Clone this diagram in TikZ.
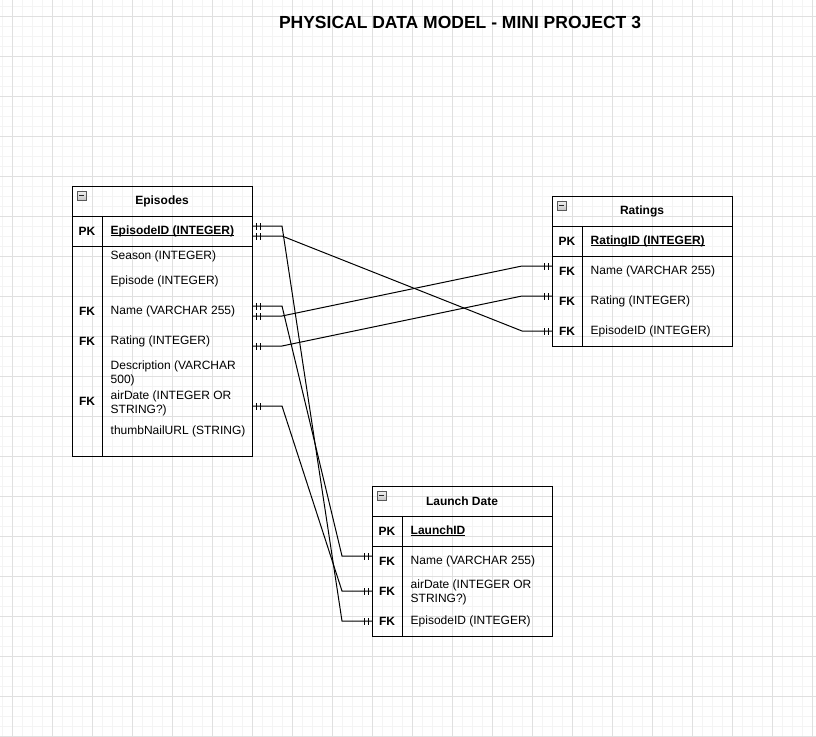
\documentclass[tikz,border=0pt]{standalone}
\usepackage{fontspec}
\setmainfont{Liberation Sans}
\usetikzlibrary{decorations.markings}

\definecolor{minorline}{HTML}{F4F4F4}
\definecolor{majorline}{HTML}{E0E0E0}

\newsavebox{\keybox}
\newcommand{\keyline}[1]{\sbox{\keybox}{#1}\rlap{\rule[-1.8pt]{\wd\keybox}{.9pt}}\usebox{\keybox}}

\begin{document}
\begin{tikzpicture}[x=1pt,y=-1pt,font=\fontsize{12}{14}\selectfont,
		tablebox/.style={draw,line width=1pt,minimum width=180pt,inner sep=0pt,anchor=north west},
		header/.style={font=\bfseries\fontsize{12}{14}\selectfont},
		keycol/.style={font=\bfseries\fontsize{12}{14}\selectfont,inner sep=0pt},
		field/.style={anchor=west,align=left,inner sep=0pt},
		collapse/.style={draw=gray!70!black,top color=gray!10,bottom color=gray!45,minimum size=9pt,inner sep=0pt,
			path picture={\draw[line width=1.4pt,black!85] ([xshift=2pt]path picture bounding box.west) -- ([xshift=-2pt]path picture bounding box.east);}},
		relation/.style={line width=1pt,postaction={decorate,decoration={markings,
			mark=at position 4pt with {\draw[line width=1pt] (0,-3.5pt) -- (0,3.5pt);},
			mark=at position 8pt with {\draw[line width=1pt] (0,-3.5pt) -- (0,3.5pt);},
			mark=at position -4pt with {\draw[line width=1pt] (0,-3.5pt) -- (0,3.5pt);},
			mark=at position -8pt with {\draw[line width=1pt] (0,-3.5pt) -- (0,3.5pt);}}}}]

			\fill[white] (0,0) rectangle (816,736);
			\useasboundingbox (0,0) rectangle (816,736);
			\draw[minorline,line width=1pt,step=10pt,shift={(2,6)}] (-2,-6) grid (814,730);
			\draw[majorline,line width=1pt,step=40pt,shift={(12,16)}] (-12,-16) grid (804,720);

			\node[font=\bfseries\fontsize{17.5}{20}\selectfont] (Title) at (460,22) {PHYSICAL DATA MODEL - MINI PROJECT 3};

			% Episodes
			\node[tablebox,minimum height=270pt] (Episodes) at (72,186) {};
			\draw[line width=1pt] ([yshift=-30pt]Episodes.north west) -- ([yshift=-30pt]Episodes.north east);
			\draw[line width=1pt] ([yshift=-60pt]Episodes.north west) -- ([yshift=-60pt]Episodes.north east);
			\draw[line width=1pt] ([shift={(30pt,-30pt)}]Episodes.north west) -- ([xshift=30pt]Episodes.south west);
			\node[collapse] (EpisodesIcon) at (81.5,195.5) {};
			\node[header]   (EpisodesHead) at (162,201)   {Episodes};
			\node[keycol]   (EpPK)         at (87,231)    {PK};
			\node[field,font=\bfseries\fontsize{12}{14}\selectfont] (EpId) at (110.5,231) {\keyline{EpisodeID (INTEGER)}};
			\node[field]    (EpSeason)     at (110.5,256) {Season (INTEGER)};
			\node[field]    (EpEpisode)    at (110.5,281) {Episode (INTEGER)};
			\node[keycol]   (EpNameKey)    at (87,311)    {FK};
			\node[field]    (EpName)       at (110.5,311) {Name (VARCHAR 255)};
			\node[keycol]   (EpRatingKey)  at (87,341)    {FK};
			\node[field]    (EpRating)     at (110.5,341) {Rating (INTEGER)};
			\node[field]    (EpDescr)      at (110.5,373) {Description (VARCHAR\\500)};
			\node[keycol]   (EpAirKey)     at (87,401)    {FK};
			\node[field]    (EpAirDate)    at (110.5,403) {airDate (INTEGER OR\\STRING?)};
			\node[field]    (EpThumb)      at (110.5,431) {thumbNailURL (STRING)};

			% Ratings
			\node[tablebox,minimum height=150pt] (Ratings) at (552,196) {};
			\draw[line width=1pt] ([yshift=-30pt]Ratings.north west) -- ([yshift=-30pt]Ratings.north east);
			\draw[line width=1pt] ([yshift=-60pt]Ratings.north west) -- ([yshift=-60pt]Ratings.north east);
			\draw[line width=1pt] ([shift={(30pt,-30pt)}]Ratings.north west) -- ([xshift=30pt]Ratings.south west);
			\node[collapse] (RatingsIcon) at (561.5,205.5) {};
			\node[header]   (RatingsHead) at (642,211)    {Ratings};
			\node[keycol]   (RtPK)        at (567,241)    {PK};
			\node[field,font=\bfseries\fontsize{12}{14}\selectfont] (RtId) at (590.5,241) {\keyline{RatingID (INTEGER)}};
			\node[keycol]   (RtNameKey)   at (567,271)    {FK};
			\node[field]    (RtNameF)     at (590.5,271)  {Name (VARCHAR 255)};
			\node[keycol]   (RtRatingKey) at (567,301)    {FK};
			\node[field]    (RtRatingF)   at (590.5,301)  {Rating (INTEGER)};
			\node[keycol]   (RtEpKey)     at (567,331)    {FK};
			\node[field]    (RtEpF)       at (590.5,331)  {EpisodeID (INTEGER)};

			% Launch Date
			\node[tablebox,minimum height=150pt] (Launch) at (372,486) {};
			\draw[line width=1pt] ([yshift=-30pt]Launch.north west) -- ([yshift=-30pt]Launch.north east);
			\draw[line width=1pt] ([yshift=-60pt]Launch.north west) -- ([yshift=-60pt]Launch.north east);
			\draw[line width=1pt] ([shift={(30pt,-30pt)}]Launch.north west) -- ([xshift=30pt]Launch.south west);
			\node[collapse] (LaunchIcon) at (381.5,495.5) {};
			\node[header]   (LaunchHead) at (462,501)    {Launch Date};
			\node[keycol]   (LdPK)       at (387,531)    {PK};
			\node[field,font=\bfseries\fontsize{12}{14}\selectfont] (LdId) at (410.5,531) {\keyline{LaunchID}};
			\node[keycol]   (LdNameKey)  at (387,561)    {FK};
			\node[field]    (LdNameF)    at (410.5,561)  {Name (VARCHAR 255)};
			\node[keycol]   (LdAirKey)   at (387,591)    {FK};
			\node[field]    (LdAirF)     at (410.5,592.5) {airDate (INTEGER OR\\STRING?)};
			\node[keycol]   (LdEpKey)    at (387,621)    {FK};
			\node[field]    (LdEpF)      at (410.5,621)  {EpisodeID (INTEGER)};

			% connector ends
			\coordinate (EpIdUp)    at (252,226);
			\coordinate (EpIdLo)    at (252,236);
			\coordinate (EpNameUp)  at (252,306);
			\coordinate (EpNameLo)  at (252,316);
			\coordinate (EpRateEnd) at (252,346);
			\coordinate (EpAirEnd)  at (252,406);
			\coordinate (RtName)    at (552,266);
			\coordinate (RtRating)  at (552,296);
			\coordinate (RtEpId)    at (552,331);
			\coordinate (LdName)    at (372,556);
			\coordinate (LdAirDate) at (372,591);
			\coordinate (LdEpId)    at (372,621);

			\draw[relation] (EpIdUp)    -- ++(30,0) -- ([xshift=-30pt]LdEpId)    -- (LdEpId);
			\draw[relation] (EpIdLo)    -- ++(30,0) -- ([xshift=-30pt]RtEpId)    -- (RtEpId);
			\draw[relation] (EpNameUp)  -- ++(30,0) -- ([xshift=-30pt]LdName)    -- (LdName);
			\draw[relation] (EpNameLo)  -- ++(30,0) -- ([xshift=-30pt]RtName)    -- (RtName);
			\draw[relation] (EpRateEnd) -- ++(30,0) -- ([xshift=-30pt]RtRating)  -- (RtRating);
			\draw[relation] (EpAirEnd)  -- ++(30,0) -- ([xshift=-30pt]LdAirDate) -- (LdAirDate);
		\end{tikzpicture}
\end{document}
